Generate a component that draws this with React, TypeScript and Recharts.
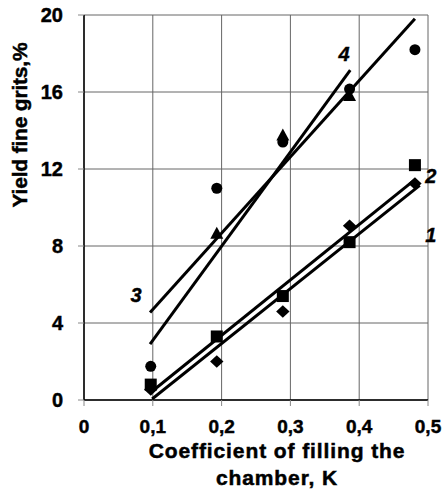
import React from "react";
import {
  ComposedChart, Line, Scatter, XAxis, YAxis, CartesianGrid, ReferenceDot, Label,
} from "recharts";

// tick values
const xTicks = [0, 0.1, 0.2, 0.3, 0.4, 0.5];
const yTicks = [0, 4, 8, 12, 16, 20];

// measured points (x = coefficient K, y = yield %)
const diamonds = [
  { x: 0.097, y: 0.55 }, { x: 0.193, y: 2.0 }, { x: 0.289, y: 4.6 },
  { x: 0.386, y: 9.05 }, { x: 0.481, y: 11.25 },
];
const squares = [
  { x: 0.097, y: 0.8 }, { x: 0.193, y: 3.3 }, { x: 0.289, y: 5.4 },
  { x: 0.386, y: 8.2 }, { x: 0.481, y: 12.2 },
];
const circles = [
  { x: 0.097, y: 1.75 }, { x: 0.193, y: 11.0 }, { x: 0.289, y: 13.4 },
  { x: 0.386, y: 16.15 }, { x: 0.481, y: 18.2 },
];
const triangles = [
  { x: 0.193, y: 8.65 }, { x: 0.289, y: 13.75 }, { x: 0.386, y: 15.8 },
];

// fitted lines (end points)
const fit1 = [{ x: 0.099, y: 0.05 }, { x: 0.488, y: 11.15 }];
const fit2 = [{ x: 0.1, y: 0.48 }, { x: 0.481, y: 11.45 }];
const fit3 = [{ x: 0.096, y: 4.54 }, { x: 0.481, y: 19.8 }];
const fit4 = [{ x: 0.096, y: 2.9 }, { x: 0.387, y: 17.14 }];

// curve numbers
const curveLabels = [
  { text: "1", x: 0.504, y: 8.57 },
  { text: "2", x: 0.504, y: 11.64 },
  { text: "3", x: 0.0756, y: 5.45 },
  { text: "4", x: 0.378, y: 17.97 },
];

const FONT = "'Liberation Sans', Arial, sans-serif";

const CircleDot = (p: any) => <circle cx={p.cx} cy={p.cy} r={5.5} fill="#000" />;
const SquareDot = (p: any) => (
  <rect x={p.cx - 6} y={p.cy - 6} width={12} height={12} fill="#000" />
);
const DiamondDot = (p: any) => (
  <polygon
    points={`${p.cx},${p.cy - 6.3} ${p.cx + 6.7},${p.cy} ${p.cx},${p.cy + 6.3} ${p.cx - 6.7},${p.cy}`}
    fill="#000"
  />
);
const TriangleDot = (p: any) => (
  <polygon
    points={`${p.cx},${p.cy - 6.8} ${p.cx + 6.5},${p.cy + 5.2} ${p.cx - 6.5},${p.cy + 5.2}`}
    fill="#000"
  />
);

const CurveNum = (props: any) => {
  const { viewBox, value } = props;
  const cx = viewBox.x + viewBox.width / 2;
  const cy = viewBox.y + viewBox.height / 2;
  return (
    <text
      x={cx}
      y={cy + 7}
      textAnchor="middle"
      fontFamily={FONT}
      fontSize={20}
      fontWeight={700}
      fontStyle="italic"
      fill="#000"
      stroke="#000"
      strokeWidth={0.4}
    >
      {value}
    </text>
  );
};

const XTitle = () => (
  <g fontFamily={FONT} fontSize={21} fontWeight={700} fill="#000" stroke="#000" strokeWidth={0.5} letterSpacing={0.9}>
    <text x={277} y={458} textAnchor="middle">Coefficient of filling the</text>
    <text x={277} y={485} textAnchor="middle">chamber, K</text>
  </g>
);

const YTitle = () => (
  <text
    x={27}
    y={125}
    transform="rotate(-90, 27, 125)"
    textAnchor="middle"
    fontFamily={FONT}
    fontSize={21}
    fontWeight={700}
    letterSpacing={-0.2}
    fill="#000"
    stroke="#000"
    strokeWidth={0.5}
  >
    Yield fine grits,%
  </text>
);

const xTickStyle = { fill: "#000", fontSize: 19, fontWeight: 700, fontFamily: FONT, stroke: "#000", strokeWidth: 0.45 };
const yTickStyle = { ...xTickStyle, fontSize: 20 };

export default function App() {
  return (
    <div style={{ position: "absolute", left: 0, top: 0, width: 447, height: 496, background: "#fff" }}>
      <ComposedChart width={447} height={496} margin={{ top: 15, right: 19, bottom: 0, left: 0 }}>
        <CartesianGrid stroke="#666" strokeWidth={1} />
        <XAxis
          dataKey="x"
          type="number"
          domain={[0, 0.5]}
          ticks={xTicks}
          allowDataOverflow
          height={96}
          tick={xTickStyle}
          tickMargin={14}
          tickSize={6}
          tickLine={{ stroke: "#888" }}
          axisLine={{ stroke: "#000", strokeWidth: 1.5 }}
          tickFormatter={(v: number) => v.toFixed(1).replace(".", ",").replace("0,0", "0")}
        >
          <Label content={XTitle} />
        </XAxis>
        <YAxis
          dataKey="y"
          type="number"
          domain={[0, 20]}
          ticks={yTicks}
          allowDataOverflow
          width={84}
          tick={yTickStyle}
          tickMargin={15}
          tickSize={6}
          tickLine={{ stroke: "#888" }}
          axisLine={{ stroke: "#000", strokeWidth: 1.5 }}
        >
          <Label content={YTitle} />
        </YAxis>

        <Line data={fit1} dataKey="y" type="linear" stroke="#000" strokeWidth={3} dot={false} isAnimationActive={false} />
        <Line data={fit2} dataKey="y" type="linear" stroke="#000" strokeWidth={3} dot={false} isAnimationActive={false} />
        <Line data={fit3} dataKey="y" type="linear" stroke="#000" strokeWidth={3} dot={false} isAnimationActive={false} />
        <Line data={fit4} dataKey="y" type="linear" stroke="#000" strokeWidth={3} dot={false} isAnimationActive={false} />

        <Scatter data={diamonds} dataKey="y" shape={DiamondDot} isAnimationActive={false} />
        <Scatter data={squares} dataKey="y" shape={SquareDot} isAnimationActive={false} />
        <Scatter data={circles} dataKey="y" shape={CircleDot} isAnimationActive={false} />
        <Scatter data={triangles} dataKey="y" shape={TriangleDot} isAnimationActive={false} />

        {curveLabels.map((c) => (
          <ReferenceDot
            key={c.text}
            x={c.x}
            y={c.y}
            r={1}
            fill="none"
            stroke="none"
            ifOverflow="visible"
            label={{ value: c.text, content: CurveNum }}
          />
        ))}
      </ComposedChart>
    </div>
  );
}
